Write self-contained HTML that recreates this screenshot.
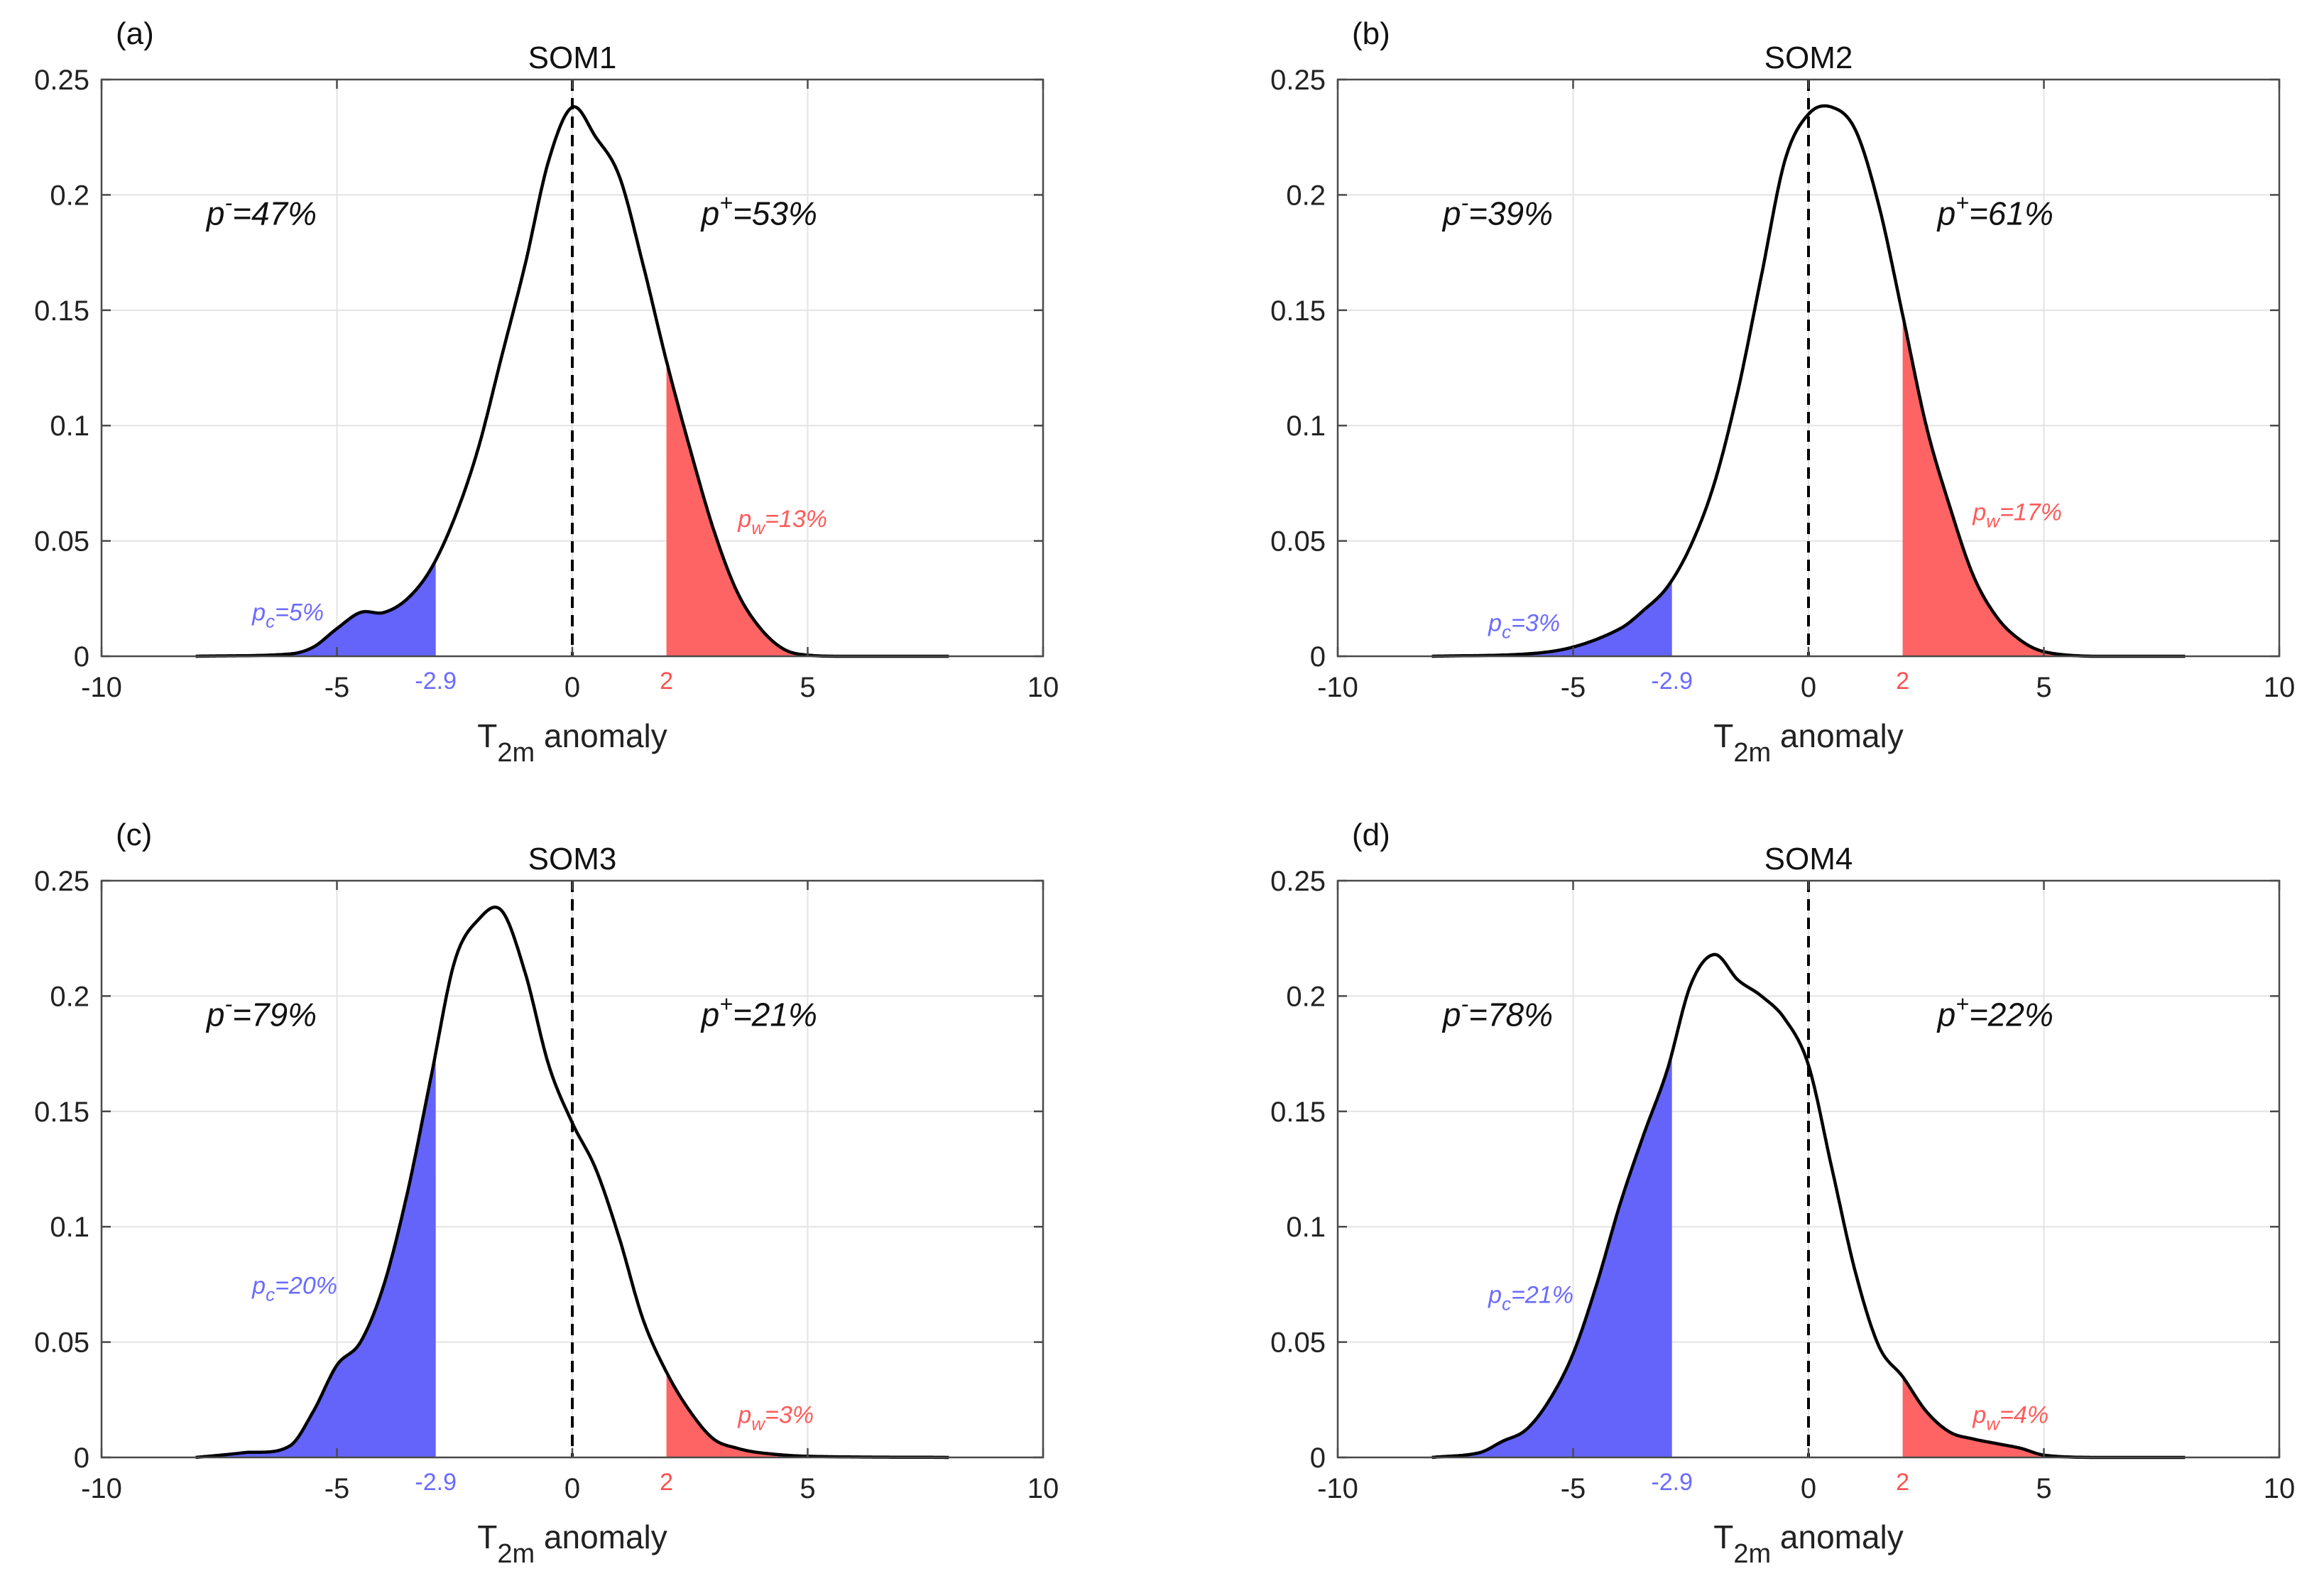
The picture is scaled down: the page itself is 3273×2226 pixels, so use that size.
<!DOCTYPE html>
<html><head><meta charset="utf-8"><style>
html,body{margin:0;padding:0;background:#fff;}
svg{display:block;font-family:"Liberation Sans",sans-serif;}
</style></head><body>
<svg id="fig" width="3273" height="2226" viewBox="0 0 3273 2226" xmlns="http://www.w3.org/2000/svg"></svg>
<script>
const xTicks=[-10,-5,0,5,10];
const yTicks=[0,0.05,0.1,0.15,0.2,0.25];
const yTickLabels=["0","0.05","0.1","0.15","0.2","0.25"];
const panelLetters=["(a)","(b)","(c)","(d)"];
const panelTitles=["SOM1","SOM2","SOM3","SOM4"];
const pMinus=["47%","39%","79%","78%"];
const pPlus=["53%","61%","21%","22%"];
const pCold=["5%","3%","20%","21%"];
const pWarm=["13%","17%","3%","4%"];
const coldThr=-2.9, warmThr=2;
const xs1=[-8,-6,-5.5,-5,-4.5,-4,-3.5,-3,-2.5,-2,-1.5,-1,-0.5,0,0.5,1,1.5,2,2.5,3,3.5,4,4.5,5,6,8];
const ys1=[0,0.001,0.004,0.012,0.019,0.019,0.025,0.038,0.06,0.09,0.13,0.17,0.215,0.238,0.225,0.208,0.17,0.128,0.09,0.055,0.028,0.012,0.003,0.0005,0,0];
const xs2=[-8,-6,-5,-4,-3.5,-3,-2.5,-2,-1.5,-1,-0.5,0,0.5,1,1.5,2,2.5,3,3.5,4,4.5,5,6,8];
const ys2=[0,0.001,0.004,0.012,0.02,0.03,0.048,0.075,0.115,0.165,0.215,0.235,0.238,0.228,0.195,0.148,0.1,0.065,0.035,0.017,0.007,0.002,0,0];
const xs3=[-8,-7,-6,-5.5,-5,-4.5,-4,-3.5,-3,-2.5,-2,-1.5,-1,-0.5,0,0.5,1,1.5,2,2.5,3,3.5,4,5,8];
const ys3=[0,0.002,0.005,0.02,0.04,0.05,0.075,0.115,0.165,0.215,0.233,0.237,0.21,0.17,0.145,0.125,0.095,0.06,0.037,0.02,0.008,0.004,0.002,0.0005,0];
const xs4=[-8,-7,-6.5,-6,-5.5,-5,-4.5,-4,-3.5,-3,-2.5,-2,-1.5,-1,-0.5,0,0.5,1,1.5,2,2.5,3,3.5,4,4.5,5,6,8];
const ys4=[0,0.002,0.007,0.012,0.025,0.045,0.075,0.11,0.14,0.168,0.205,0.218,0.207,0.2,0.19,0.17,0.125,0.08,0.048,0.035,0.02,0.011,0.008,0.006,0.004,0.001,0,0];
const seriesX=[xs1,xs2,xs3,xs4];
const seriesY=[ys1,ys2,ys3,ys4];
const pcPos=[[-6.8,0.0155],[-6.8,0.011],[-6.8,0.071],[-6.8,0.067]];
const pwPos=[[3.52,0.056],[3.49,0.059],[3.52,0.015],[3.49,0.015]];

const NS="http://www.w3.org/2000/svg";
const svg=document.getElementById('fig');
function mk(tag,attrs,parent,text){const e=document.createElementNS(NS,tag);for(const k in attrs)e.setAttribute(k,attrs[k]);if(text!==undefined)e.textContent=text;(parent||svg).appendChild(e);return e;}
const offs=[[143,112],[1884,112],[143,1240],[1884,1240]];
const W=1326,H=812;
function interp(xs,ys,x){
  if(x<=xs[0])return ys[0]; if(x>=xs[xs.length-1])return ys[ys.length-1];
  let i=0;while(xs[i+1]<x)i++;
  const x0=xs[i],x1=xs[i+1],t=(x-x0)/(x1-x0);
  const p0=ys[Math.max(i-1,0)],p1=ys[i],p2=ys[i+1],p3=ys[Math.min(i+2,ys.length-1)];
  const h=x1-x0;
  const xm=xs[Math.max(i-1,0)],xp=xs[Math.min(i+2,xs.length-1)];
  const m1=(p2-p0)/(x1-xm)*h, m2=(p3-p1)/(xp-x0)*h;
  const t2=t*t,t3=t2*t;
  return Math.max(0,(2*t3-3*t2+1)*p1+(t3-2*t2+t)*m1+(-2*t3+3*t2)*p2+(t3-t2)*m2);
}
for(let p=0;p<4;p++){
  const [ox,oy]=offs[p];
  const sx=v=>ox+(v+10)/20*W, sy=v=>oy+H-v/0.25*H;
  const g=mk('g',{});
  
  
  xTicks.forEach(t=>{const l=mk('line',{x1:sx(t),x2:sx(t),y1:oy,y2:oy+H,stroke:'#e3e3e3','stroke-width':2},g);});
  yTicks.forEach(t=>{const l=mk('line',{x1:ox,x2:ox+W,y1:sy(t),y2:sy(t),stroke:'#e3e3e3','stroke-width':2},g);});
  const xs=seriesX[p],ys=seriesY[p];
  const x0=xs[0],x1=xs[xs.length-1];
  function pathRange(a,b){let d='';const n=Math.max(2,Math.round((b-a)*40));for(let i=0;i<=n;i++){const x=a+(b-a)*i/n;d+=(i?'L':'M')+sx(x).toFixed(1)+','+sy(interp(xs,ys,x)).toFixed(1);}return d;}
  const cold=mk('path',{d:pathRange(x0,coldThr)+'L'+sx(coldThr)+','+sy(0)+'L'+sx(x0)+','+sy(0)+'Z',fill:'#6464fb'},g);
  
  const warm=mk('path',{d:pathRange(warmThr,x1)+'L'+sx(x1)+','+sy(0)+'L'+sx(warmThr)+','+sy(0)+'Z',fill:'#fe6464'},g);
  
  const dash=mk('line',{x1:sx(0),x2:sx(0),y1:oy,y2:oy+H,stroke:'#000','stroke-width':4,'stroke-dasharray':'16,10'},g);
  
  const curve=mk('path',{d:pathRange(x0,x1),fill:'none',stroke:'#000','stroke-width':4.5,'stroke-linejoin':'round'},g);
  
  const frame=mk('rect',{x:ox,y:oy,width:W,height:H,fill:'none',stroke:'#4a4a4a','stroke-width':2.5},g);
  
  xTicks.forEach(t=>{mk('line',{x1:sx(t),x2:sx(t),y1:oy+H,y2:oy+H-13,stroke:'#4a4a4a','stroke-width':2.5},g);mk('line',{x1:sx(t),x2:sx(t),y1:oy,y2:oy+13,stroke:'#4a4a4a','stroke-width':2.5},g);
    const tl=mk('text',{x:sx(t),y:oy+H+57,'text-anchor':'middle','font-size':40,fill:'#222'},g,String(t));});
  yTicks.forEach((t,i)=>{mk('line',{x1:ox,x2:ox+13,y1:sy(t),y2:sy(t),stroke:'#4a4a4a','stroke-width':2.5},g);mk('line',{x1:ox+W,x2:ox+W-13,y1:sy(t),y2:sy(t),stroke:'#4a4a4a','stroke-width':2.5},g);
    const tl=mk('text',{x:ox-17,y:sy(t)+14,'text-anchor':'end','font-size':40,fill:'#222'},g,yTickLabels[i]);});
  const tc=mk('text',{x:sx(coldThr),y:oy+H+46,'text-anchor':'middle','font-size':34,fill:'#6b6bff'},g,String(coldThr));
  const tw=mk('text',{x:sx(warmThr),y:oy+H+46,'text-anchor':'middle','font-size':34,fill:'#ff5050'},g,String(warmThr));
  const xl=mk('text',{x:sx(0),y:oy+H+128,'text-anchor':'middle','font-size':46,fill:'#222'},g);
  xl.innerHTML='T<tspan font-size="38" dy="20">2m</tspan><tspan dy="-20"> anomaly</tspan>';
  
  const ti=mk('text',{x:sx(0),y:oy-16,'text-anchor':'middle','font-size':44,fill:'#111'},g,panelTitles[p]);
  const le=mk('text',{x:ox+20,y:oy-50,'font-size':44,fill:'#111'},g,panelLetters[p]);
  const pm=mk('text',{x:sx(-7.77),y:sy(0.187),'font-size':46,'font-style':'italic',fill:'#111'},g);
  pm.innerHTML='p<tspan font-size="32" dy="-20">-</tspan><tspan dy="20">='+pMinus[p]+'</tspan>';
  
  const pp=mk('text',{x:sx(2.74),y:sy(0.187),'font-size':46,'font-style':'italic',fill:'#111'},g);
  pp.innerHTML='p<tspan font-size="32" dy="-20">+</tspan><tspan dy="20">='+pPlus[p]+'</tspan>';
  
  const pc=mk('text',{x:sx(pcPos[p][0]),y:sy(pcPos[p][1]),'font-size':34,'font-style':'italic',fill:'#6b6bff'},g);
  pc.innerHTML='p<tspan font-size="26" dy="10">c</tspan><tspan dy="-10">='+pCold[p]+'</tspan>';
  
  const pw=mk('text',{x:sx(pwPos[p][0]),y:sy(pwPos[p][1]),'font-size':34,'font-style':'italic',fill:'#ff5a5a'},g);
  pw.innerHTML='p<tspan font-size="26" dy="10">w</tspan><tspan dy="-10">='+pWarm[p]+'</tspan>';
  
}
</script>
</body></html>
